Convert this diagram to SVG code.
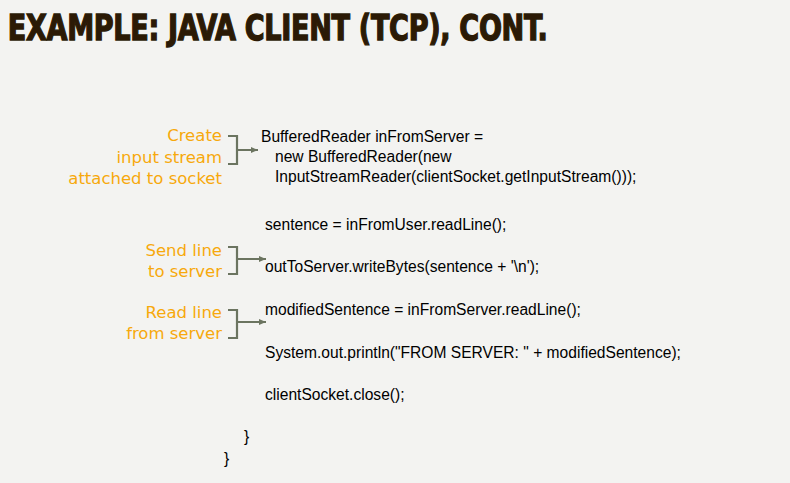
<svg xmlns="http://www.w3.org/2000/svg" width="790" height="483" viewBox="0 0 790 483">
<style>
.code{font-family:"Liberation Sans",Arial,sans-serif;font-size:15.6px;fill:#000}
.note{font-family:"DejaVu Sans","Comic Sans MS",sans-serif;font-size:16.5px;fill:#f7a90c;text-anchor:end}
.br{fill:none;stroke:#6b7460;stroke-width:2.2}
</style>
<defs><marker id="ah" markerWidth="8" markerHeight="8" refX="7" refY="4" orient="auto" markerUnits="userSpaceOnUse"><path d="M0,1 L7,4 L0,7z" fill="#6b7460"/></marker></defs>
<rect width="790" height="483" fill="#f3f3f1"/>
<text x="9" y="40" font-family="'DejaVu Sans Condensed','DejaVu Sans',sans-serif" font-weight="bold" font-size="35" fill="#2b1a05" stroke="#2b1a05" stroke-width="1.3" transform="scale(0.86,1)" textLength="628">EXAMPLE: JAVA CLIENT (TCP), CONT.</text>
<g id="code">
<text class="code" x="261" y="142">BufferedReader inFromServer =</text>
<text class="code" x="275" y="162">new BufferedReader(new</text>
<text class="code" x="275" y="182">InputStreamReader(clientSocket.getInputStream()));</text>
<text class="code" x="265" y="230">sentence = inFromUser.readLine();</text>
<text class="code" x="265" y="272">outToServer.writeBytes(sentence + '\n');</text>
<text class="code" x="265" y="315">modifiedSentence = inFromServer.readLine();</text>
<text class="code" x="265" y="358">System.out.println("FROM SERVER: " + modifiedSentence);</text>
<text class="code" x="265" y="400">clientSocket.close();</text>
<text class="code" x="244" y="442">}</text>
<text class="code" x="224" y="464">}</text>
</g>
<g id="note1"><text class="note" x="222" y="141">Create</text><text class="note" x="222" y="163">input stream</text><text class="note" x="222" y="184">attached to socket</text></g>
<g id="note2"><text class="note" x="222" y="256">Send line</text><text class="note" x="222" y="277">to server</text></g>
<g id="note3"><text class="note" x="222" y="318">Read line</text><text class="note" x="222" y="339">from server</text></g>
<g id="connectors">
<path class="br" d="M228,136 H237 V164 H228 M237,150 H258" marker-end="url(#ah)"/>
<path class="br" d="M228,247 H237 V274 H228 M237,259 H266" marker-end="url(#ah)"/>
<path class="br" d="M228,310 H237 V338 H228 M237,322 H266" marker-end="url(#ah)"/>
</g>
</svg>
